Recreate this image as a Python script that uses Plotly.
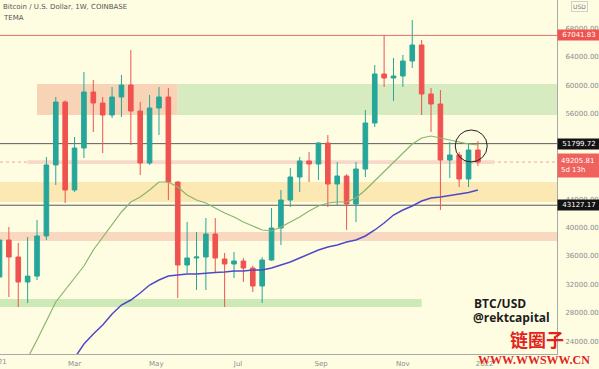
import plotly.graph_objects as go
import pandas as pd

# ---------------- data ----------------
week_start = "2021-01-04"
n_weeks = 52
dates = pd.date_range(week_start, periods=n_weeks, freq="7D")

opens = [33024, 38234, 35840, 32320, 33150, 38800, 48800, 57660, 45274, 51187,
         59072, 57523, 55834, 58368, 60058, 56397, 49075, 56820, 58368, 46400,
         34714, 35700, 35840, 39078, 35560, 34854, 35277, 34290, 31757, 35418,
         39923, 43866, 47104, 49357, 48934, 51891, 46118, 47245, 43303, 48230,
         54707, 61606, 61043, 61325, 63437, 65690, 58790, 57382, 49498, 50202,
         46822, 50906]
highs = [42035, 40064, 37811, 38656, 41050, 49920, 58368, 57900, 52736, 61888,
         60762, 58368, 59776, 61466, 64986, 57664, 58650, 59776, 59635, 46500,
         40768, 39360, 41331, 41331, 36403, 36544, 35700, 34600, 35800, 42739,
         45274, 48371, 49920, 50624, 52000, 53018, 49216, 47500, 49216, 56539,
         62874, 67098, 63859, 64282, 69210, 66394, 59635, 59354, 52032, 50624,
         51891, 52173]
lows = [27955, 30208, 28800, 29363, 32600, 38234, 45978, 43443, 45000, 49779,
        53440, 50483, 55411, 55552, 51610, 47386, 48800, 53018, 43866, 30067,
        33587, 31194, 31194, 33587, 28800, 32883, 32320, 30912, 29363, 35300,
        37530, 42880, 44992, 46400, 46682, 42880, 43162, 39642, 40768, 47104,
        54144, 59776, 57805, 59776, 62451, 55834, 53440, 42458, 46963, 45696,
        45696, 48653]
closes = [38234, 35840, 32320, 33150, 38800, 48800, 57660, 45274, 51187, 59072,
          57523, 55834, 58368, 60058, 56397, 49075, 56820, 58368, 46400, 34714,
          35700, 35840, 39078, 35700, 34854, 35277, 34290, 31757, 35418, 39923,
          43866, 47104, 49357, 48934, 51891, 46118, 47245, 43303, 48230, 54707,
          61606, 61043, 61325, 63437, 65690, 58790, 57382, 49498, 50202, 46822,
          50906, 49206]

tema_fast = [None, None, 18803, 21619, 24154, 26829, 29504, 31194, 32883, 34573,
             36826, 38656, 40346, 42176, 43584, 44288, 45274, 46400, 46400, 45696,
             44570, 43866, 43443, 42739, 42035, 41472, 40768, 40205, 39642, 39501,
             40064, 40768, 41472, 42317, 43021, 43443, 43584, 43584, 44147, 45274,
             46541, 47808, 49075, 50342, 51750, 52595, 52877, 52595, 52314, 52032,
             51750, 51610]
tema_slow = [None, None, None, None, None, None, None, None, 21619, 23590,
             25002, 26266, 27814, 29082, 29786, 30771, 31898, 32602, 33165, 33306,
             33446, 33446, 33587, 33658, 33728, 33869, 33869, 34010, 34010, 34291,
             34714, 35136, 35701, 36262, 36826, 37248, 37530, 37952, 38234, 38797,
             39642, 40627, 41754, 42458, 43021, 43725, 44147, 44288, 44499, 44710,
             44920, 45274]

level_ath = 67041.83
level_res = 51799.72
level_last = 49205.81
level_sup = 43127.17
last_timer = "5d 13h"

zone_upper = (55850, 60200)
zone_upper_split = "2021-05-17"
zone_upper_start = "2021-02-01"
zone_mid = (43600, 46400)
zone_low = (38100, 39350)
zone_bottom = (28800, 29920)
zone_bottom_end = "2021-11-15"
last_band = (48950, 49480)
last_band_span = ("2021-01-25", "2022-01-08")

focus_date = "2021-12-22"
focus_price = 51470

y_ticks = [24000, 28000, 32000, 36000, 40000, 44000, 48000, 52000,
           56000, 60000, 64000, 68000]
x_tick_dates = ["2021-03-01", "2021-05-01", "2021-07-01", "2021-09-01",
                "2021-11-01", "2022-01-01"]
x_tick_labels = ["Mar", "May", "Jul", "Sep", "Nov", "2022"]
first_year_label = "2021"

# ---------------- style ----------------
BG = "#fefde2"
UP = "#26a69a"
DOWN = "#ef5350"
FONT = "DejaVu Sans"
far_left = "2020-11-01"
far_right = "2022-06-01"

fig = go.Figure()
fig.add_trace(go.Candlestick(
    x=dates, open=opens, high=highs, low=lows, close=closes,
    increasing=dict(line=dict(color=UP, width=1), fillcolor=UP),
    decreasing=dict(line=dict(color=DOWN, width=1), fillcolor=DOWN),
    whiskerwidth=0, showlegend=False, hoverinfo="skip"))
fig.add_trace(go.Scatter(x=dates, y=tema_fast, mode="lines",
                         line=dict(color="#88b66e", width=1.2),
                         showlegend=False, hoverinfo="skip"))
fig.add_trace(go.Scatter(x=dates, y=tema_slow, mode="lines",
                         line=dict(color="#5148c8", width=1.5),
                         showlegend=False, hoverinfo="skip"))

shapes = []
def rect(x0, x1, y0, y1, color):
    shapes.append(dict(type="rect", xref="x", yref="y", x0=x0, x1=x1, y0=y0, y1=y1,
                       fillcolor=color, line=dict(width=0), layer="below"))

rect(zone_upper_start, zone_upper_split, zone_upper[0], zone_upper[1], "#f8d4b6")
rect(zone_upper_split, far_right, zone_upper[0], zone_upper[1], "#d6ecc0")
rect(far_left, far_right, zone_mid[0], zone_mid[1], "#fbe8b2")
rect(far_left, far_right, zone_low[0], zone_low[1], "#f8d9c0")
rect(far_left, zone_bottom_end, zone_bottom[0], zone_bottom[1], "#cde9b6")
rect(last_band_span[0], last_band_span[1], last_band[0], last_band[1], "#f6d9c8")

def hline(y, color, dash="solid", width=1):
    shapes.append(dict(type="line", xref="paper", yref="y", x0=0, x1=1, y0=y, y1=y,
                       line=dict(color=color, width=width, dash=dash), layer="below"))

hline(level_ath, "#e06f6a")
hline(level_res, "#5a5a5a")
hline(level_sup, "#5a5a5a")
hline(level_last, "#e9a6a0", dash="dot")

shapes.append(dict(type="circle", xref="x", yref="y", xsizemode="pixel", ysizemode="pixel",
                   xanchor=focus_date, yanchor=focus_price, x0=-16, x1=16, y0=-16, y1=16,
                   line=dict(color="#222222", width=1), layer="above"))

ann = []
def axis_label(y, text, color, yshift=0, yanchor="middle", align="center", width=40, pad=1):
    ann.append(dict(xref="paper", yref="y", x=1, y=y, xanchor="left", yanchor=yanchor,
                    yshift=yshift, text=text, showarrow=False, bgcolor=color,
                    font=dict(family=FONT, size=7, color="white"),
                    borderpad=pad, width=width, align=align))

axis_label(level_ath, f"{level_ath:.2f}", "#ef5350")
axis_label(level_res, f"{level_res:.2f}", "#131313")
axis_label(level_sup, f"{level_sup:.2f}", "#131313")
axis_label(level_last, f"{level_last:.2f}<br>{last_timer}", "#f0625e",
           yshift=9, yanchor="top", align="left", width=36, pad=3)

ann.append(dict(xref="paper", yref="paper", x=1, y=1, xanchor="center", yanchor="top",
                xshift=22, yshift=-1, text="USD", showarrow=False, bgcolor=BG,
                bordercolor="#cfcfcf", borderwidth=1, borderpad=1,
                font=dict(family=FONT, size=6, color="#777777")))
ann.append(dict(xref="paper", yref="paper", x=0, y=1, xanchor="left", yanchor="top",
                xshift=1, yshift=-1, text="Bitcoin / U.S. Dollar, 1W, COINBASE",
                showarrow=False, font=dict(family=FONT, size=7, color="#555555")))
ann.append(dict(xref="paper", yref="paper", x=0, y=1, xanchor="left", yanchor="top",
                xshift=1, yshift=-12, text="TEMA",
                showarrow=False, font=dict(family=FONT, size=7, color="#555555")))
ann.append(dict(xref="paper", yref="paper", x=0, y=0, xanchor="right", yanchor="top",
                xshift=9, yshift=-2, text=first_year_label, showarrow=False,
                font=dict(family=FONT, size=7, color="#8c8c8c")))
ann.append(dict(xref="paper", yref="paper", x=472 / 557, y=(354 - 303) / 354,
                xanchor="left", yanchor="middle", text="<b>BTC/USD</b>", showarrow=False,
                font=dict(family="Open Sans", size=12, color="#1c1c1c")))
ann.append(dict(xref="paper", yref="paper", x=471 / 557, y=(354 - 317) / 354,
                xanchor="left", yanchor="middle", text="<b>@rektcapital</b>", showarrow=False,
                font=dict(family="Open Sans", size=12, color="#1c1c1c")))
ann.append(dict(xref="paper", yref="paper", x=537 / 557, y=(354 - 339) / 354,
                xanchor="center", yanchor="middle", text="<b>链圈子</b>", showarrow=False,
                font=dict(family="Noto Sans CJK SC", size=18, color="#e3241c")))
ann.append(dict(xref="paper", yref="paper", x=534 / 557, y=(354 - 360) / 354,
                xanchor="center", yanchor="middle", text="<b>WWW.WWSWW.CN</b>", showarrow=False,
                font=dict(family="Liberation Serif", size=12, color="#e3241c")))

fig.update_layout(
    template="none",
    width=599, height=369,
    margin=dict(l=0, r=42, t=0, b=15, pad=0),
    paper_bgcolor=BG, plot_bgcolor=BG,
    showlegend=False,
    shapes=shapes, annotations=ann,
    xaxis=dict(range=["2021-01-04 09:00", "2022-02-24"], rangeslider=dict(visible=False),
               showgrid=False, zeroline=False, showline=True, linecolor="#a9a9a9",
               linewidth=1, tickvals=x_tick_dates, ticktext=x_tick_labels, ticks="",
               tickfont=dict(family=FONT, size=7, color="#8c8c8c"),
               ticklabelstandoff=3, automargin=False),
    yaxis=dict(side="right", range=[22182, 72026], showgrid=False, zeroline=False,
               showline=True, linecolor="#a9a9a9", linewidth=1, tickvals=y_ticks,
               tickformat=".2f", ticks="", ticklabelstandoff=6,
               tickfont=dict(family=FONT, size=7, color="#8c8c8c"), automargin=False),
)

fig.write_html("out.html", config={"displayModeBar": False},
               post_script="document.body.style.margin='0';document.body.style.overflow='hidden';")
